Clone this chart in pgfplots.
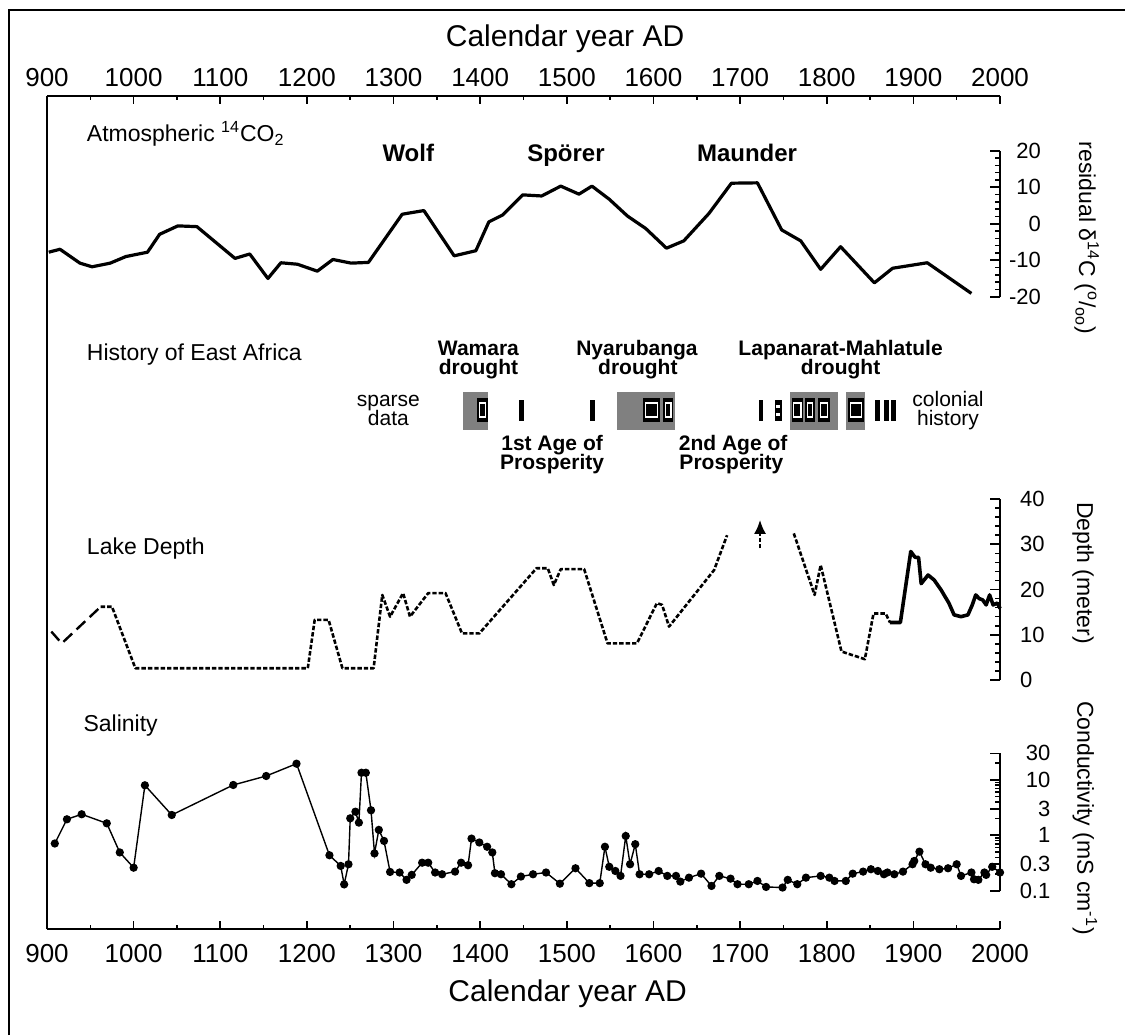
\documentclass[border=0pt]{standalone}
\usepackage{fontspec}
\setmainfont{Liberation Sans}
\usepackage{pgfplots}
\usepackage{pgfplotstable}
\pgfplotsset{compat=1.18}
\usetikzlibrary{arrows.meta}

\definecolor{droughtgray}{RGB}{128,128,128}
\newcommand{\fs}[1]{\fontsize{#1}{#1}\selectfont}

% residual delta-14C (permil)
\pgfplotstableread{
year res
902 -7.8
915 -7.0
938 -10.8
952 -11.8
973 -10.8
991 -9.0
1016 -7.8
1030 -2.9
1051 -0.6
1073 -0.8
1117 -9.5
1134 -8.3
1155 -15.0
1170 -10.7
1189 -11.1
1212 -13.0
1230 -9.8
1251 -10.8
1271 -10.6
1310 2.6
1335 3.6
1370 -8.8
1395 -7.4
1410 0.5
1426 2.4
1449 7.9
1471 7.6
1493 10.3
1514 8.1
1529 10.3
1549 6.7
1570 2.1
1591 -1.3
1615 -6.7
1635 -4.7
1664 2.8
1690 11.1
1720 11.2
1748 -1.7
1770 -4.7
1793 -12.5
1816 -6.3
1855 -16.2
1876 -12.2
1916 -10.7
1967 -19.1
}\cotwo

% lake depth (m), reconstructed pieces
\pgfplotstableread{
year depth
905 10.7
917 8.1
962 16.2
}\depthA
\pgfplotstableread{
year depth
962 16.2
975 16.2
1002 2.6
1201 2.6
1209 13.3
1225 13.3
1241 2.6
1277 2.6
1287 18.8
1296 14.0
1311 19.2
1319 14.0
1340 19.2
1360 19.2
1379 10.3
1399 10.3
1465 24.7
1478 24.7
1485 21.0
1493 24.5
1520 24.5
1547 8.1
1581 8.1
1604 17.0
1610 16.6
1618 11.8
1670 24.3
1685 32.0
}\depthB
\pgfplotstableread{
year depth
1762 32.4
1786 18.8
1793 25.4
1817 6.3
1844 4.6
1854 14.7
1868 14.7
1873 12.7
}\depthC
\pgfplotstableread{
year depth
1873 12.7
1885 12.7
1897 28.4
1902 27.1
1906 27.1
1909 21.3
1917 23.2
1924 22.1
1932 19.9
1941 17.0
1947 14.4
1955 14.0
1963 14.4
1968 16.6
1972 18.8
1976 18.0
1980 17.7
1984 16.6
1988 18.8
1992 16.6
1997 17.0
2000 15.8
}\depthD

% conductivity (mS/cm)
\pgfplotstableread{
year cond
909 0.71
923 1.94
940 2.39
969 1.64
984 0.49
1000 0.26
1013 7.96
1044 2.32
1115 8.06
1153 11.7
1188 19.5
1226 0.436
1239 0.28
1243 0.13
1248 0.30
1250 2.02
1256 2.66
1260 1.69
1263 13.4
1268 13.4
1274 2.82
1278 0.47
1283 1.25
1289 0.79
1296 0.218
1307 0.213
1315 0.157
1321 0.193
1333 0.32
1340 0.32
1348 0.213
1356 0.198
1371 0.221
1378 0.32
1386 0.288
1390 0.87
1399 0.74
1408 0.62
1414 0.49
1417 0.207
1424 0.198
1436 0.131
1447 0.18
1461 0.198
1476 0.213
1492 0.134
1510 0.254
1526 0.137
1538 0.137
1544 0.62
1549 0.27
1556 0.227
1562 0.185
1568 0.97
1573 0.30
1579 0.69
1584 0.198
1595 0.198
1606 0.227
1616 0.185
1626 0.185
1631 0.146
1641 0.172
1655 0.203
1667 0.122
1676 0.185
1689 0.165
1697 0.131
1710 0.131
1720 0.150
1730 0.117
1749 0.114
1755 0.157
1766 0.131
1776 0.172
1793 0.185
1803 0.172
1809 0.150
1822 0.150
1830 0.203
1842 0.221
1851 0.244
1859 0.227
1866 0.198
1870 0.213
1878 0.198
1888 0.221
1899 0.30
1901 0.344
1907 0.506
1914 0.30
1920 0.26
1930 0.244
1940 0.254
1950 0.30
1955 0.185
1967 0.213
1970 0.161
1975 0.157
1982 0.213
1984 0.193
1991 0.27
2000 0.213
}\cond

\pgfplotsset{
  years/.style={scale only axis, width=476.5pt, xmin=900, xmax=2000,
    anchor=south west, clip=false},
  panel/.style={years, axis x line=none, axis y line=right,
    axis line style={-, line width=0.9pt},
    tick align=inside, tick style={line width=0.8pt, black},
    major tick length=5pt, minor tick length=2.5pt,
    yticklabel style={font=\fs{11}}},
}

\begin{document}
\begin{tikzpicture}
\useasboundingbox (0,0) rectangle (562.5pt,-517.5pt);
\draw[line width=1pt] (4.5pt,-517.5pt) -- (4.5pt,-5pt) -- (562.5pt,-5pt);

% frame: left edge and bottom year axis, also carries the annotations
\begin{axis}[years, height=416.5pt, at={(23.5pt,-464.5pt)},
  ymin=-929, ymax=-96,
  axis x line=bottom, axis y line=left,
  axis line style={-, line width=0.9pt},
  tick align=inside, tick style={line width=0.8pt, black},
  major tick length=4pt, minor tick length=2.2pt,
  xtick={900,1000,1100,1200,1300,1400,1500,1600,1700,1800,1900,2000},
  xticklabels={900,1000,1100,1200,1300,1400,1500,1600,1700,1800,1900,2000},
  minor x tick num=1, ytick=\empty,
  xticklabel style={font=\fs{13}, yshift=-4pt}]
  % axis titles
  \node[anchor=base, font=\fs{15}] at (axis cs:1498,-46) {Calendar year AD};
  \node[anchor=base, font=\fs{15}] at (axis cs:1501,-1001) {Calendar year AD};
  % panel names
  \node[anchor=base west, font=\fs{11.5}] at (axis cs:938,-141.5) {Atmospheric \textsuperscript{14}CO\textsubscript{2}};
  \node[anchor=base west, font=\fs{11.5}] at (axis cs:938,-360) {History of East Africa};
  \node[anchor=base west, font=\fs{11.5}] at (axis cs:938,-554) {Lake Depth};
  \node[anchor=base west, font=\fs{11.5}] at (axis cs:934,-731.5) {Salinity};
  % solar minima
  \node[anchor=base, font=\fs{12}\bfseries] at (axis cs:1317,-161.5) {Wolf};
  \node[anchor=base, font=\fs{12}\bfseries] at (axis cs:1499,-161.5) {Spörer};
  \node[anchor=base, font=\fs{12}\bfseries] at (axis cs:1708,-161.5) {Maunder};
  % history panel: drought periods
  \fill[droughtgray] (axis cs:1380.5,-430) rectangle (axis cs:1409.4,-391.5);
  \fill[droughtgray] (axis cs:1557.5,-430) rectangle (axis cs:1624.7,-391.5);
  \fill[droughtgray] (axis cs:1757.6,-430) rectangle (axis cs:1813.3,-391.5);
  \fill[droughtgray] (axis cs:1822.7,-430) rectangle (axis cs:1844.6,-391.5);
  % history panel: dated events
  \fill[black] (axis cs:1396.7,-422) rectangle (axis cs:1408.7,-398);
  \fill[black] (axis cs:1588.3,-422) rectangle (axis cs:1607.6,-398);
  \fill[black] (axis cs:1611.4,-422) rectangle (axis cs:1622.9,-398);
  \fill[black] (axis cs:1759.5,-422) rectangle (axis cs:1772.9,-398);
  \fill[black] (axis cs:1774.9,-422) rectangle (axis cs:1786.4,-398);
  \fill[black] (axis cs:1790.2,-422) rectangle (axis cs:1803.7,-398);
  \fill[black] (axis cs:1824.5,-422) rectangle (axis cs:1843.0,-398);
  \draw[white, line width=0.6pt] (axis cs:1399.5,-417) rectangle (axis cs:1406,-403);
  \draw[white, line width=0.6pt] (axis cs:1591,-417) rectangle (axis cs:1605,-403);
  \draw[white, line width=0.6pt] (axis cs:1614,-417) rectangle (axis cs:1620.3,-403);
  \draw[white, line width=0.6pt] (axis cs:1762,-417) rectangle (axis cs:1770.4,-403);
  \draw[white, line width=0.6pt] (axis cs:1777.4,-417) rectangle (axis cs:1783.9,-403);
  \draw[white, line width=0.6pt] (axis cs:1792.7,-417) rectangle (axis cs:1801.2,-403);
  \draw[white, line width=0.6pt] (axis cs:1827,-417) rectangle (axis cs:1840.5,-403);
  \fill[black] (axis cs:1445.1,-421) rectangle (axis cs:1450.5,-400);
  \fill[black] (axis cs:1526.7,-421) rectangle (axis cs:1532.5,-400);
  \fill[black] (axis cs:1721.4,-421) rectangle (axis cs:1727.0,-400);
  \fill[black] (axis cs:1740.0,-421) rectangle (axis cs:1748.0,-400);
  \fill[black] (axis cs:1855.9,-421) rectangle (axis cs:1861.7,-400);
  \fill[black] (axis cs:1866.0,-421) rectangle (axis cs:1871.8,-400);
  \fill[black] (axis cs:1874.1,-421) rectangle (axis cs:1879.9,-400);
  \fill[white] (axis cs:1741.8,-405) rectangle (axis cs:1746.2,-408);
  \fill[white] (axis cs:1741.8,-413) rectangle (axis cs:1746.2,-416);
  \begin{scope}[every node/.style={anchor=base, font=\fs{10.5}\bfseries}]
    \node at (axis cs:1398,-355) {Wamara};
    \node at (axis cs:1398,-374) {drought};
    \node at (axis cs:1581,-355) {Nyarubanga};
    \node at (axis cs:1582,-374) {drought};
    \node at (axis cs:1816,-355) {Lapanarat-Mahlatule};
    \node at (axis cs:1816,-374) {drought};
    \node at (axis cs:1483,-450) {1st Age of};
    \node at (axis cs:1483,-469) {Prosperity};
    \node at (axis cs:1692,-450) {2nd Age of};
    \node at (axis cs:1690,-469) {Prosperity};
  \end{scope}
  \begin{scope}[every node/.style={anchor=base, font=\fs{10.5}}]
    \node at (axis cs:1294,-406) {sparse};
    \node at (axis cs:1294,-425) {data};
    \node at (axis cs:1940,-406) {colonial};
    \node at (axis cs:1940,-425) {history};
  \end{scope}
  % right-hand axis titles
  \node[rotate=-90, font=\fs{11.5}] at (axis cs:2100,-238) {residual δ\textsuperscript{14}C (\textsuperscript{o}/\textsubscript{oo})};
  \node[rotate=-90, font=\fs{11.5}] at (axis cs:2096,-573) {Depth (meter)};
  \node[rotate=-90, font=\fs{11.5}] at (axis cs:2098,-818) {Conductivity (mS cm\textsuperscript{-1})};
\end{axis}

% top year axis
\begin{axis}[years, height=416.5pt, at={(23.5pt,-464.5pt)},
  ymin=0, ymax=1,
  axis x line=top, axis y line=none,
  axis line style={-, line width=0.9pt},
  tick align=inside, tick style={line width=0.8pt, black},
  major tick length=4pt, minor tick length=2.2pt,
  xtick={900,1000,1100,1200,1300,1400,1500,1600,1700,1800,1900,2000},
  xticklabels={900,1000,1100,1200,1300,1400,1500,1600,1700,1800,1900,2000},
  minor x tick num=1, xticklabel pos=upper,
  xticklabel style={font=\fs{13}, yshift=1.3pt}]
\end{axis}

% atmospheric 14CO2
\begin{axis}[panel, height=73pt, at={(23.5pt,-148.35pt)},
  ymin=-20, ymax=20,
  ytick={-20,-10,0,10,20}, yticklabels={-20,-10,0,10,20},
  minor y tick num=4,
  yticklabel style={anchor=east, xshift=24pt}]
  \addplot[black, line width=1.6pt, line join=round] table[x=year, y=res] {\cotwo};
\end{axis}

% lake depth
\begin{axis}[panel, height=90.5pt, at={(23.5pt,-340pt)},
  ymin=0, ymax=40,
  ytick={0,10,20,30,40}, yticklabels={0,10,20,30,40},
  minor y tick num=4,
  yticklabel style={anchor=west, xshift=6.5pt}]
  \addplot[black, line width=1.2pt, dash pattern=on 6pt off 3pt] table[x=year, y=depth] {\depthA};
  \addplot[black, line width=1.3pt, dash pattern=on 2.2pt off 1pt, line join=round] table[x=year, y=depth] {\depthB};
  \addplot[black, line width=1.3pt, dash pattern=on 2.2pt off 1pt, line join=round] table[x=year, y=depth] {\depthC};
  \addplot[black, line width=1.8pt, line join=round] table[x=year, y=depth] {\depthD};
  \addplot[black, line width=1.2pt, dash pattern=on 2pt off 1.2pt,
    -{Latex[length=7pt, width=6pt]}] coordinates {(1723,29.1) (1723,35.4)};
\end{axis}

% salinity
\begin{axis}[panel, height=68.7pt, at={(23.5pt,-445.35pt)},
  ymode=log, ymin=0.1, ymax=30,
  ytick={0.1,0.3,1,3,10,30}, yticklabels={0.1,0.3,1,3,10,30},
  minor ytick={0.2,0.4,0.5,0.6,0.7,0.8,0.9,2,4,5,6,7,8,9,20},
  yticklabel style={anchor=east, xshift=28.7pt}]
  \addplot[black, line width=0.7pt, mark=*, mark size=1.7pt] table[x=year, y=cond] {\cond};
\end{axis}
\end{tikzpicture}
\end{document}
